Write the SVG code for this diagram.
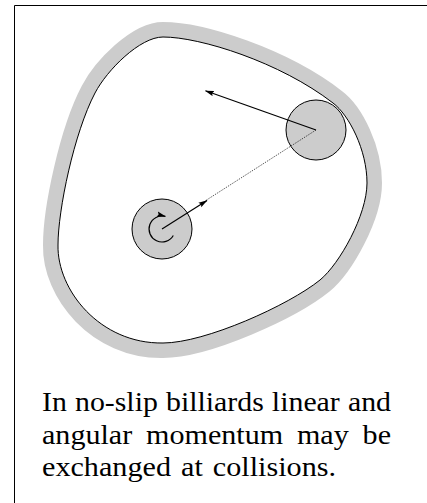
<svg xmlns="http://www.w3.org/2000/svg" width="427" height="503" viewBox="0 0 427 503">
<style>
.frame{fill:none;stroke:#000;stroke-width:1}
.band{fill:none;stroke:#cccccc;stroke-width:30;stroke-linejoin:round}
.wall{fill:#fff;stroke:#000;stroke-width:1}
.disk{fill:#cccccc;stroke:#000;stroke-width:1}
.vec{fill:none;stroke:#000;stroke-width:1.2;marker-end:url(#ah)}
.dot{fill:none;stroke:#000;stroke-width:0.8;stroke-dasharray:1 1.2}
</style>
<defs>
<marker id="ah" viewBox="0 0 9 6" refX="8.5" refY="3" markerWidth="9" markerHeight="6" markerUnits="userSpaceOnUse" orient="auto">
<path d="M0,0.3 L9,3 L0,5.7 L1.5,3 z" fill="#000"/>
</marker>
<path id="table" d="M163,37 C200,37 280,62 333,103 C349,115 367,150 367,183 C367,215 339.5,264 320,280 C288.8,305.2 205,343 163,343 C100,344 57,290 58,245 C58,210 74,133 95,93 C107,70 140,37 163,37 Z"/>
</defs>
<path class="frame" d="M14.5,503 L14.5,5.5 L427,5.5"/>
<g id="table-boundary">
<use href="#table" class="band"/>
<use href="#table" class="wall"/>
</g>
<g id="disk-right">
<circle class="disk" cx="316" cy="130" r="30"/>
</g>
<g id="disk-left">
<circle class="disk" cx="162" cy="229" r="30"/>
</g>
<g id="connectors">
<line class="dot" x1="316" y1="130" x2="205" y2="201"/>
<line class="vec" x1="316" y1="130" x2="205.5" y2="90.8"/>
<line class="vec" x1="162" y1="229" x2="207" y2="200.5"/>
<path class="vec" d="M173.3,235.5 A13,13 0 1 1 165.4,216.4"/>
</g>
<g id="caption" font-family="Liberation Serif, Times New Roman, serif" font-size="28" fill="#000">
<text x="42" y="411" word-spacing="0.6" textLength="349" lengthAdjust="spacingAndGlyphs">In no-slip billiards linear and</text>
<text x="42" y="443.5" word-spacing="5.9" textLength="349" lengthAdjust="spacingAndGlyphs">angular momentum may be</text>
<text x="42" y="476" word-spacing="2.3" textLength="294" lengthAdjust="spacingAndGlyphs">exchanged at collisions.</text>
</g>
</svg>
